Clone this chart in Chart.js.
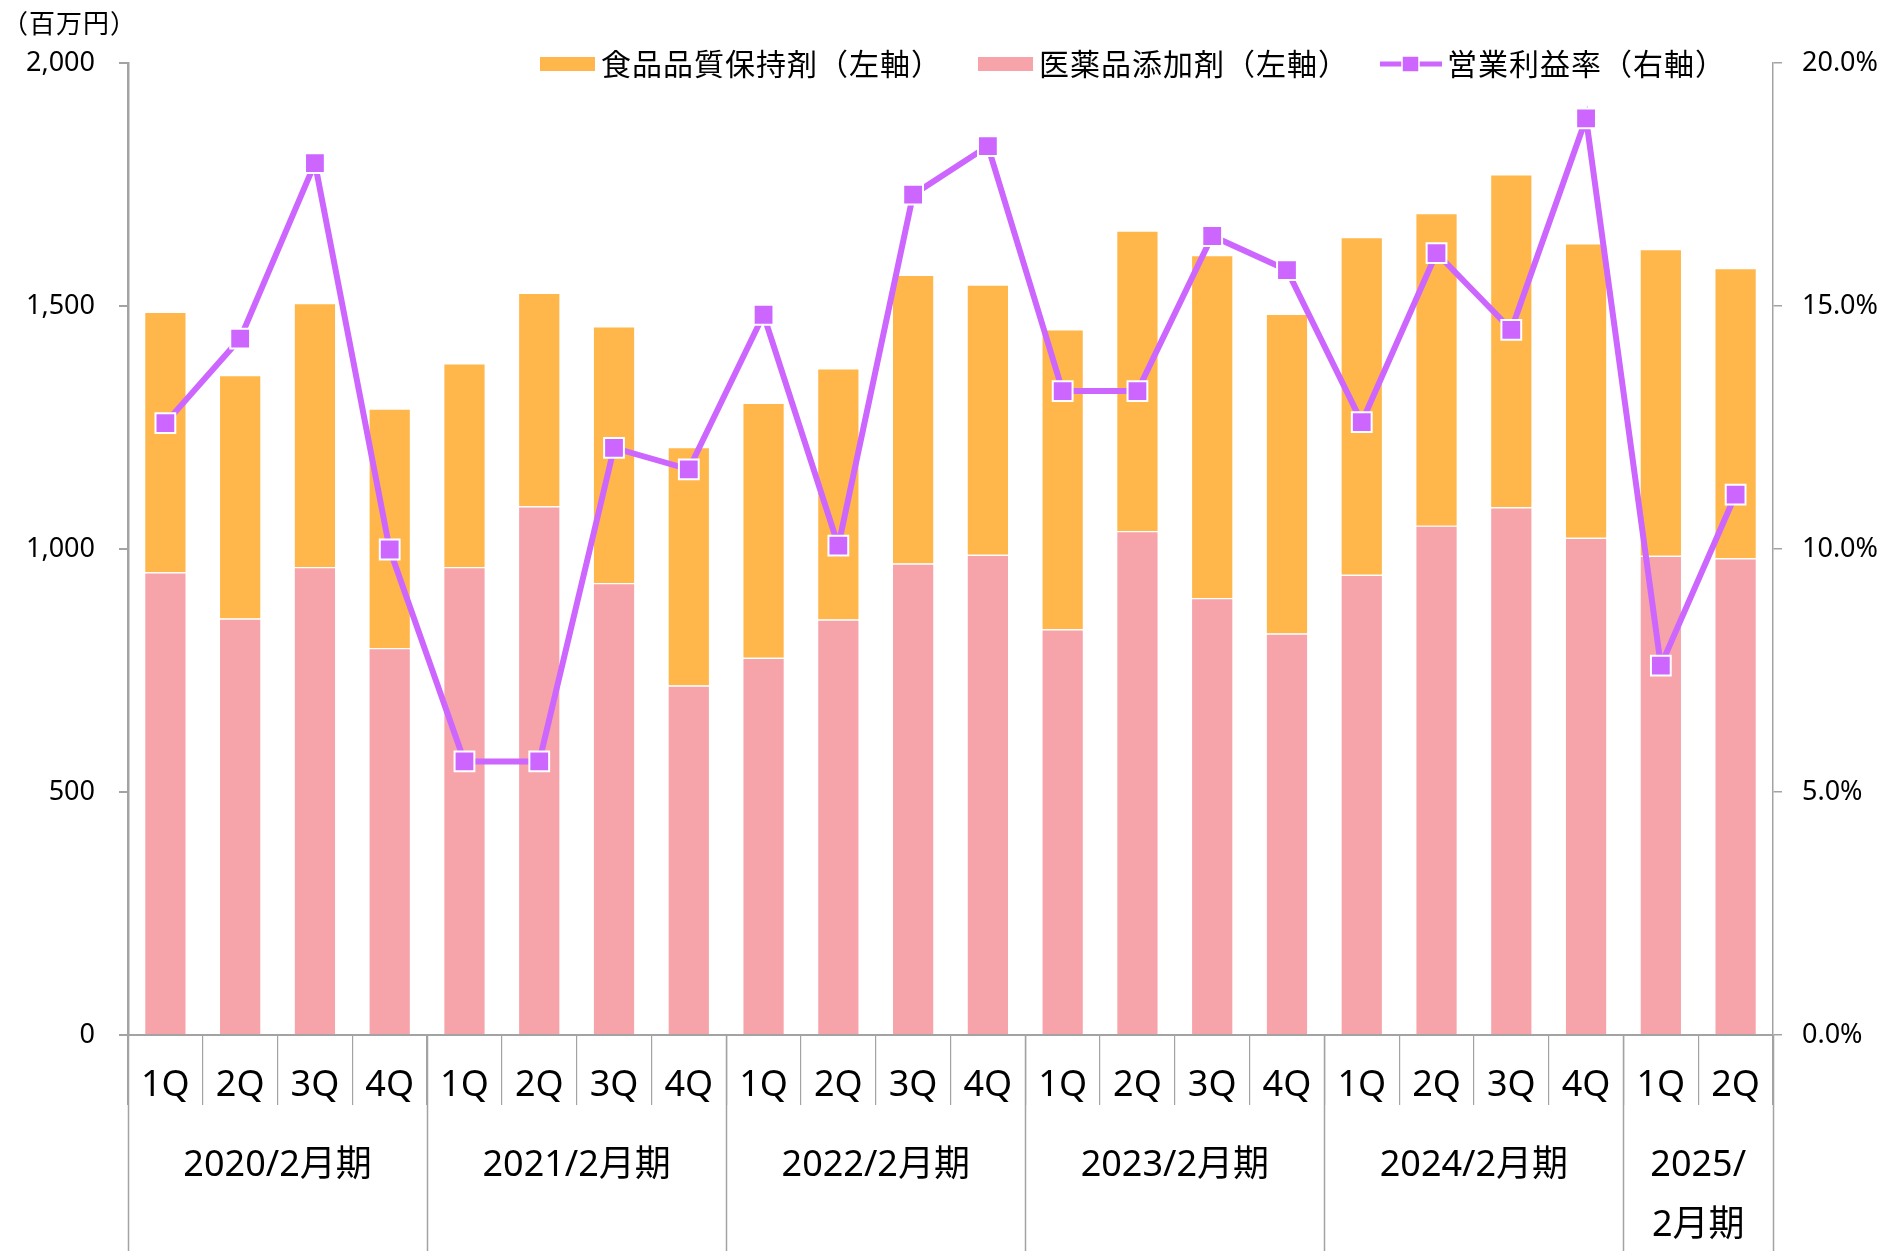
<!DOCTYPE html>
<html><head><meta charset="utf-8">
<script src="https://cdn.jsdelivr.net/npm/chart.js@4/dist/chart.umd.min.js"></script>
<style>html,body{margin:0;padding:0;background:#fff;overflow:hidden}canvas{display:block}</style>
</head><body>
<canvas id="c" width="1894" height="1251"></canvas>
<script>
const quarters = ['1Q','2Q','3Q','4Q','1Q','2Q','3Q','4Q','1Q','2Q','3Q','4Q','1Q','2Q','3Q','4Q','1Q','2Q','3Q','4Q','1Q','2Q'];
const groupLabels = [['2020/2月期'],['2021/2月期'],['2022/2月期'],['2023/2月期'],['2024/2月期'],['2025/','2月期']];
const groupSizes = [4,4,4,4,4,2];
const pharmaValues = [952,857,963,796,963,1088,930,719,776,855,970,988,835,1037,899,826,947,1048,1086,1023,986,981];
const foodValues   = [536,501,543,493,419,439,528,491,525,517,594,556,617,618,706,658,695,643,685,606,631,597];
const marginValues = [12.59,14.33,17.94,9.99,5.63,5.63,12.08,11.64,14.82,10.07,17.29,18.29,13.25,13.25,16.44,15.74,12.61,16.09,14.51,18.86,7.60,11.12];
const leftTickValues = [0,500,1000,1500,2000];
const leftTickLabels = ['0','500','1,000','1,500','2,000'];
const rightTickValues = [0,5,10,15,20];
const rightTickLabels = ['0.0%','5.0%','10.0%','15.0%','20.0%'];
const unitLabel = '（百万円）';
const seriesNames = {food:'食品品質保持剤（左軸）', pharma:'医薬品添加剤（左軸）', margin:'営業利益率（右軸）'};

const COL_FOOD = '#FFB74B', COL_PHARMA = '#F6A3AA', COL_LINE = '#CC66FF', COL_AXIS = '#A3A3A3';
const CJK = '"Noto Sans CJK JP", sans-serif';
const LAT = '"Noto Sans", "Noto Sans CJK JP", sans-serif';

const decor = {
  id: 'decor',
  afterDatasetsDraw(chart) {
    const ctx = chart.ctx, xs = chart.scales.x, ca = chart.chartArea;
    ctx.save();
    // unit label
    ctx.fillStyle = '#000';
    ctx.font = '26px ' + CJK;
    ctx.letterSpacing = '1px';
    ctx.textAlign = 'left'; ctx.textBaseline = 'middle';
    ctx.fillText(unitLabel, 2, 23);
    ctx.letterSpacing = '0px';
    // group separators and labels
    ctx.strokeStyle = COL_AXIS; ctx.lineWidth = 1.5;
    let idx = 0;
    const bnd = i => i === 0 ? xs.left : (i >= quarters.length ? xs.right : (xs.getPixelForValue(i - 1) + xs.getPixelForValue(i)) / 2);
    for (let g = 0; g <= groupSizes.length; g++) {
      const x = Math.round(bnd(idx)) + 0.5;
      ctx.beginPath(); ctx.moveTo(x, ca.bottom); ctx.lineTo(x, chart.height); ctx.stroke();
      if (g < groupSizes.length) idx += groupSizes[g];
    }
    idx = 0;
    ctx.font = '36px ' + LAT; ctx.textAlign = 'center'; ctx.fillStyle = '#000';
    groupLabels.forEach((lines, g) => {
      const a = xs.getPixelForValue(idx), b = xs.getPixelForValue(idx + groupSizes[g] - 1);
      const cx = (a + b) / 2;
      lines.forEach((t, k) => ctx.fillText(t, cx, ca.bottom + 131 + k * 60));
      idx += groupSizes[g];
    });
    // legend
    ctx.font = '30px ' + CJK; ctx.textAlign = 'left'; ctx.textBaseline = 'middle';
    ctx.letterSpacing = '1px';
    const ly = 64;
    ctx.fillStyle = COL_FOOD; ctx.fillRect(540, ly - 7, 55, 14);
    ctx.fillStyle = '#000'; ctx.fillText(seriesNames.food, 601, ly);
    ctx.fillStyle = COL_PHARMA; ctx.fillRect(978, ly - 7, 55, 14);
    ctx.fillStyle = '#000'; ctx.fillText(seriesNames.pharma, 1039, ly);
    ctx.strokeStyle = COL_LINE; ctx.lineWidth = 5;
    ctx.beginPath(); ctx.moveTo(1380, ly); ctx.lineTo(1442, ly); ctx.stroke();
    ctx.fillStyle = COL_LINE; ctx.fillRect(1402, ly - 8, 17, 16);
    ctx.strokeStyle = '#fff'; ctx.lineWidth = 1.5; ctx.strokeRect(1402, ly - 8, 17, 16);
    ctx.fillStyle = '#000'; ctx.fillText(seriesNames.margin, 1447, ly);
    ctx.restore();
  }
};

new Chart(document.getElementById('c'), {
  data: {
    labels: quarters,
    datasets: [
      { type: 'line', label: seriesNames.margin, data: marginValues, yAxisID: 'y1', order: 0,
        borderColor: COL_LINE, borderWidth: 6, tension: 0,
        pointStyle: 'rect', pointRadius: 14, pointHoverRadius: 14,
        pointBackgroundColor: COL_LINE, pointBorderColor: '#fff', pointBorderWidth: 2 },
      { type: 'bar', label: seriesNames.pharma, data: pharmaValues, yAxisID: 'y', stack: 's', order: 1,
        backgroundColor: COL_PHARMA, borderColor: '#fff', borderWidth: 1.2,
        categoryPercentage: 1, barPercentage: 0.57 },
      { type: 'bar', label: seriesNames.food, data: foodValues, yAxisID: 'y', stack: 's', order: 1,
        backgroundColor: COL_FOOD, borderColor: '#fff', borderWidth: 1.2,
        categoryPercentage: 1, barPercentage: 0.57 }
    ]
  },
  options: {
    responsive: false, devicePixelRatio: 1, animation: false,
    layout: { padding: { top: 63, left: 0, right: 0, bottom: 0 } },
    plugins: { legend: { display: false }, tooltip: { enabled: false } },
    scales: {
      x: {
        type: 'category', offset: true, stacked: true,
        grid: { offset: true, drawOnChartArea: false, drawTicks: true, tickLength: 70, color: COL_AXIS, lineWidth: 1.2 },
        border: { display: true, color: COL_AXIS, width: 2 },
        ticks: { padding: -41, color: '#000', font: { family: LAT, size: 36 }, maxRotation: 0, autoSkip: false },
        afterFit(s) { s.height = 216; }
      },
      y: {
        position: 'left', min: 0, max: 2000, stacked: true,
        afterBuildTicks(s) { s.ticks = leftTickValues.map(v => ({ value: v })); },
        ticks: { padding: 24, color: '#000', font: { family: LAT, size: 27 },
          callback: (v) => leftTickLabels[leftTickValues.indexOf(v)] },
        grid: { drawOnChartArea: false, tickLength: 9, color: COL_AXIS, lineWidth: 2 },
        border: { color: COL_AXIS, width: 2.5 },
        afterFit(s) { s.width = 128; }
      },
      y1: {
        position: 'right', min: 0, max: 20,
        afterBuildTicks(s) { s.ticks = rightTickValues.map(v => ({ value: v })); },
        ticks: { padding: 20, color: '#000', font: { family: LAT, size: 27 },
          callback: (v) => rightTickLabels[rightTickValues.indexOf(v)] },
        grid: { drawOnChartArea: false, tickLength: 9, color: COL_AXIS, lineWidth: 1.5 },
        border: { color: COL_AXIS, width: 1.5 },
        afterFit(s) { s.width = 121; }
      }
    }
  },
  plugins: [decor]
});
</script>
</body></html>
